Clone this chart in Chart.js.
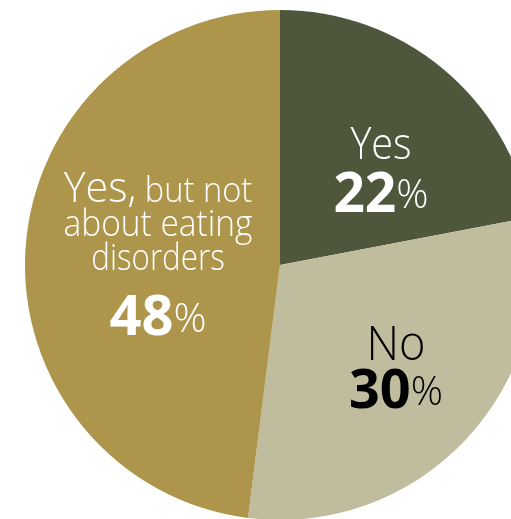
<!DOCTYPE html>
<html>
<head>
<meta charset="utf-8">
<script src="https://cdn.jsdelivr.net/npm/chart.js@4.4.1/dist/chart.umd.min.js"></script>
<style>
  html, body { margin: 0; padding: 0; background: #ffffff; overflow: hidden; }
  #wrap { width: 560px; height: 530px; }
</style>
</head>
<body>
<div id="wrap"><canvas id="grafica" width="560" height="530"></canvas></div>
<script>
// datos del gráfico
const categorias = ["Yes", "No", "Yes, but not about eating disorders"];
const valores = [22, 30, 48];
const colores = ["#4e573c", "#c0bc9e", "#ad964b"];
const colorTexto = ["#ffffff", "#000000", "#ffffff"];

// etiquetas: cada línea es una lista de trozos [texto, tamaño, peso, subida, escalaX]
const etiquetas = [
  { x: 381, lineas: [
      { y: 159, trozos: [["Yes", 44, 300, 0, 0.9]] },
      { y: 212, trozos: [["22", 55, 700, 0, 1], ["%", 40, 300, 4, 1]] }
  ]},
  { x: 396, lineas: [
      { y: 360, trozos: [["No", 48, 300, 0, 0.94]] },
      { y: 408, trozos: [["30", 54, 700, 0, 1], ["%", 40, 300, 3, 1]] }
  ]},
  { x: 158, lineas: [
      { y: 202, trozos: [["Yes,", 43, 300, 0, 0.96], [" but not", 34, 300, 0, 0.96]] },
      { y: 236, trozos: [["about eating", 36, 300, 0, 0.93]] },
      { y: 270, trozos: [["disorders", 36, 300, 0, 0.87]] },
      { y: 335, trozos: [["48", 56, 700, 0, 1], ["%", 41, 300, 3, 1]] }
  ]}
];

const FUENTE = '"Open Sans", "Noto Sans", sans-serif';

const pluginEtiquetas = {
  id: 'etiquetas',
  afterDatasetsDraw(chart) {
    const ctx = chart.ctx;
    ctx.save();
    ctx.textBaseline = 'alphabetic';
    ctx.textAlign = 'left';
    etiquetas.forEach((et, i) => {
      ctx.fillStyle = colorTexto[i];
      et.lineas.forEach(linea => {
        let ancho = 0;
        linea.trozos.forEach(t => {
          ctx.font = `${t[2]} ${t[1]}px ${FUENTE}`;
          ancho += ctx.measureText(t[0]).width * t[4];
        });
        let x = et.x - ancho / 2;
        linea.trozos.forEach(t => {
          ctx.font = `${t[2]} ${t[1]}px ${FUENTE}`;
          ctx.save();
          ctx.translate(x, linea.y - t[3]);
          ctx.scale(t[4], 1);
          ctx.fillText(t[0], 0, 0);
          ctx.restore();
          x += ctx.measureText(t[0]).width * t[4];
        });
      });
    });
    ctx.restore();
  }
};

new Chart(document.getElementById('grafica'), {
  type: 'pie',
  data: {
    labels: categorias,
    datasets: [{
      data: valores,
      backgroundColor: colores,
      borderWidth: 0
    }]
  },
  options: {
    responsive: false,
    animation: false,
    layout: { padding: { left: 25, top: 10, right: 25, bottom: 10 } },
    plugins: {
      legend: { display: false },
      tooltip: { enabled: false }
    }
  },
  plugins: [pluginEtiquetas]
});
</script>
</body>
</html>
